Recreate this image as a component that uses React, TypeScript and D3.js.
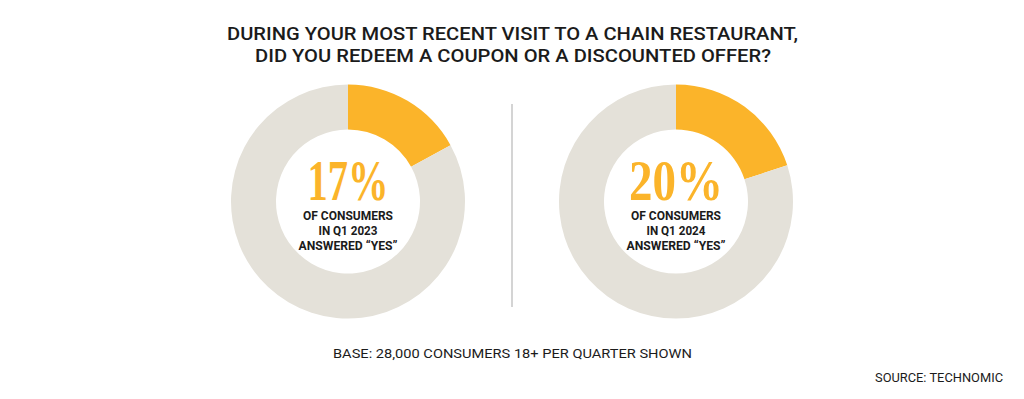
import React from "react";
import * as d3 from "d3";

const titleLines = [
  "DURING YOUR MOST RECENT VISIT TO A CHAIN RESTAURANT,",
  "DID YOU REDEEM A COUPON OR A DISCOUNTED OFFER?",
];
const quarters = ["Q1 2023", "Q1 2024"];
const yesShares = [17, 20];
const baseNote = "BASE: 28,000 CONSUMERS 18+ PER QUARTER SHOWN";
const sourceNote = "SOURCE: TECHNOMIC";

const W = 1024;
const H = 399;
const ORANGE = "#fbb42a";
const GREY = "#e4e1d9";
const INK = "#1b1b1b";
const SANS = "Roboto, 'Noto Sans', sans-serif";
const SERIF = "'Liberation Serif', 'DejaVu Serif', serif";

export default function App() {
  const x = d3.scalePoint<string>().domain(quarters).range([348, 676]);
  const cy = 201.5;
  const arc = d3.arc<d3.PieArcDatum<number>>().innerRadius(72).outerRadius(117);
  const pie = d3.pie<number>().sort(null).value((d) => d);

  const numWidths = [81, 94];

  return (
    <svg
      width={W}
      height={H}
      style={{ position: "absolute", left: 0, top: 0, background: "#fff" }}
      viewBox={`0 0 ${W} ${H}`}
    >
      <rect width={W} height={H} fill="#fff" />
      <text x={512.5} y={40} textAnchor="middle" fontFamily={SANS} fontWeight={500} fontSize={19}
        fill={INK} textLength={571} lengthAdjust="spacingAndGlyphs">{titleLines[0]}</text>
      <text x={513} y={61.7} textAnchor="middle" fontFamily={SANS} fontWeight={500} fontSize={19}
        fill={INK} textLength={516} lengthAdjust="spacingAndGlyphs">{titleLines[1]}</text>

      <line x1={512} x2={512} y1={104} y2={307} stroke="#c6c6c6" strokeWidth={1.5} />

      {quarters.map((q, i) => {
        const cx = x(q) as number;
        const arcs = pie([yesShares[i], 100 - yesShares[i]]);
        return (
          <g key={q} transform={`translate(${cx},${cy})`}>
            {arcs.map((a, j) => (
              <path key={j} d={arc(a) || ""} fill={j === 0 ? ORANGE : GREY} />
            ))}
            <text x={0} y={200 - cy} textAnchor="middle" fontFamily={SERIF} fontWeight={700}
              fontSize={56} fill={ORANGE} textLength={numWidths[i]} lengthAdjust="spacingAndGlyphs">
              {`${yesShares[i]}%`}
            </text>
            <text x={0} y={220 - cy} textAnchor="middle" fontFamily={SANS} fontWeight={700}
              fontSize={12.5} fill={INK} textLength={90} lengthAdjust="spacingAndGlyphs">
              OF CONSUMERS
            </text>
            <text x={0} y={235 - cy} textAnchor="middle" fontFamily={SANS} fontWeight={700}
              fontSize={12.5} fill={INK} textLength={59} lengthAdjust="spacingAndGlyphs">
              {`IN ${q}`}
            </text>
            <text x={0} y={250 - cy} textAnchor="middle" fontFamily={SANS} fontWeight={700}
              fontSize={12.5} fill={INK} textLength={99} lengthAdjust="spacingAndGlyphs">
              ANSWERED “YES”
            </text>
          </g>
        );
      })}

      <text x={512.5} y={357.5} textAnchor="middle" fontFamily={SANS} fontWeight={400} fontSize={13}
        fill={INK} textLength={359} lengthAdjust="spacingAndGlyphs">{baseNote}</text>
      <text x={1003} y={382} textAnchor="end" fontFamily={SANS} fontWeight={400} fontSize={13}
        fill={INK} textLength={128} lengthAdjust="spacingAndGlyphs">{sourceNote}</text>
    </svg>
  );
}
